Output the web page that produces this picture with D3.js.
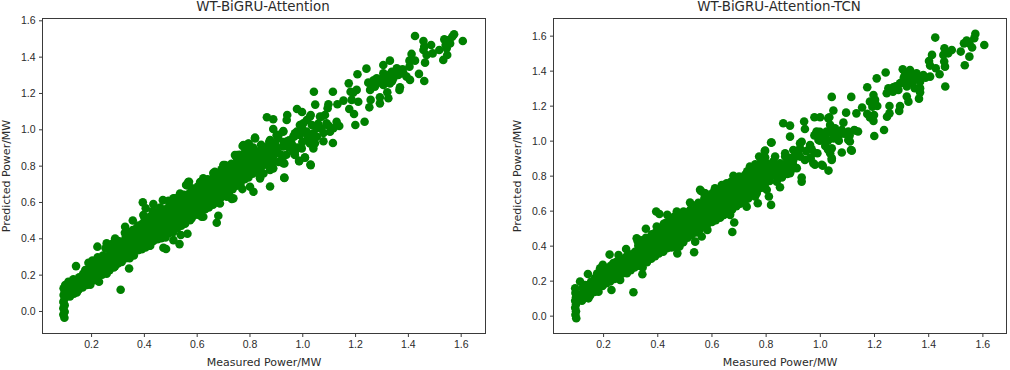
<!DOCTYPE html>
<html lang="en">
<head>
  <meta charset="UTF-8" />
  <title>WT-BiGRU scatter</title>
  <script src="https://d3js.org/d3.v7.min.js"></script>
  <style>
    body { margin: 0; background: #fff; font-family: 'DejaVu Sans', sans-serif; }
    svg { display: block; }
    .tick text { font-size: 10.5px; fill: #2b2b2b; }
    .tick line, .spine { stroke: #3a3a3a; }
    .domain { display: none; }
    .title { font-size: 13.4px; fill: #2b2b2b; text-anchor: middle; }
    .label { font-size: 11px; fill: #2b2b2b; text-anchor: middle; }
  </style>
</head>
<body>
  <svg width="1010" height="370"></svg>
  <script>
    const xTicks = [0.2, 0.4, 0.6, 0.8, 1.0, 1.2, 1.4, 1.6];
    const yTicks = [0.0, 0.2, 0.4, 0.6, 0.8, 1.0, 1.2, 1.4, 1.6];
    const xLabel = "Measured Power/MW";
    const yLabel = "Predicted Power/MW";

    // [measured, predicted]
    const attentionHigh = [
      [1.427,1.514],[1.575,1.523],[1.568,1.510],[1.538,1.495],[1.556,1.492],[1.608,1.486],[1.459,1.486],[1.488,1.464],
      [1.462,1.455],[1.543,1.464],[1.560,1.473],[1.547,1.446],[1.519,1.437],[1.459,1.437],[1.471,1.409],[1.494,1.418],
      [1.549,1.409],[1.534,1.382],[1.465,1.367],[1.414,1.415],[1.427,1.378],[1.406,1.378],[1.406,1.345],[1.332,1.378],
      [1.307,1.354],[1.243,1.334],[1.209,1.303],[1.176,1.253],[1.358,1.336],[1.339,1.317],[1.307,1.308],[1.383,1.308],
      [1.395,1.290],[1.408,1.272],[1.442,1.305],[1.462,1.266],[1.282,1.281],[1.250,1.257],[1.294,1.272],[1.320,1.272],
      [1.345,1.281],[1.364,1.299],[1.257,1.217],[1.275,1.235],[1.307,1.244],[1.332,1.253],[1.368,1.217],[1.370,1.231],
      [1.322,1.204],[1.294,1.176],[1.326,1.171],[1.294,1.143],[1.259,1.162],[1.254,1.121],[1.206,1.217],[1.193,1.202],
      [1.183,1.207],[1.187,1.162],[1.212,1.152],[1.156,1.158],[1.133,1.138],[1.178,1.112],[1.196,1.084],[1.236,1.042],
      [1.201,1.024],[1.116,1.207],[1.044,1.207],[1.049,1.136],[1.099,1.138],[1.096,1.116],[0.980,1.112],[0.999,1.095],
      [0.943,1.079],[0.941,1.051],[0.866,1.066],[0.890,1.055],[0.890,1.002],[0.821,0.954],[1.032,1.079],[1.017,1.051],
      [1.067,1.070],[1.086,1.079],[0.991,1.024],[1.036,1.024],[1.055,1.006],[1.092,1.033],[1.118,1.006],[1.105,0.987],
      [1.130,1.042],[1.140,1.018],[0.928,0.991],[0.979,0.987],[1.017,0.987],[1.042,0.978],[1.073,1.006],[0.966,0.960],
      [0.991,0.969],[1.017,0.941],[1.048,0.923],[1.080,0.934],[1.116,0.925],[0.941,0.932],[0.909,0.951],[0.878,0.941],
      [0.897,0.923],[0.852,0.886],[0.827,0.877],[0.802,0.850],[0.928,0.905],[0.966,0.877],[0.972,0.859],[1.010,0.844],
      [0.988,0.826],[1.031,0.806],[0.928,0.813],[0.878,0.776],[0.840,0.850],[0.890,0.850],[0.909,0.868],[0.865,0.831],
      [0.821,0.813],[0.802,0.758],[0.932,0.734],[0.840,0.739],[0.878,0.685],[0.850,0.800],[0.880,0.880],[0.910,0.820],
      [0.950,0.900],[0.940,0.860],[0.860,0.860],[0.830,0.780],[0.905,0.900],
      [0.860,0.830],[0.870,0.870],[0.890,0.820],[0.900,0.880],[0.920,0.860],[0.930,0.930],[0.950,0.940],[0.960,0.920],
      [0.970,0.960],[0.980,0.900],[1.000,0.930],[1.000,1.000],[1.020,0.970],[1.030,0.950],[1.050,0.960],[1.060,1.030],
      [1.080,0.980],[1.100,1.020],[0.880,0.910],[0.910,0.970],[0.860,0.900],[1.310,1.290],[1.330,1.300],[1.350,1.300],
      [1.370,1.310],[1.380,1.330],[1.280,1.250],[1.260,1.250],[1.270,1.270],[1.300,1.260],[1.340,1.265]
    ];
    const attentionLow = [
      [0.099,-0.037],[0.095,-0.020],[0.100,-0.004],[0.095,0.015],[0.100,0.032],[0.095,0.050],[0.100,0.069],[0.096,0.088],
      [0.100,0.106],[0.096,0.125],[0.102,0.143],[0.114,0.161],[0.143,0.247],[0.224,0.354],[0.312,0.117],[0.230,0.161],
      [0.259,0.205],[0.146,0.102],[0.358,0.498],[0.329,0.464],[0.396,0.598],[0.407,0.565],[0.436,0.588],[0.434,0.550],
      [0.472,0.610],[0.493,0.607],[0.518,0.620],[0.562,0.693],[0.537,0.647],[0.773,0.671],[0.739,0.620],[0.682,0.524],
      [0.676,0.486],[0.619,0.519],[0.581,0.510],[0.565,0.425],[0.540,0.418],[0.535,0.368],[0.474,0.348],[0.484,0.341],
      [0.512,0.390],[0.424,0.359],[0.344,0.234],[0.291,0.247],[0.184,0.143],[0.291,0.399],[0.259,0.372],[0.373,0.458],
      [0.398,0.528],[0.777,0.913],[0.797,0.920],[0.753,0.859],[0.707,0.803],[0.663,0.759],[0.613,0.710],[0.568,0.710],
      [0.120,0.080],[0.118,0.120],[0.124,0.160],[0.135,0.095],[0.138,0.135],[0.133,0.175],[0.152,0.115],[0.150,0.150],
      [0.155,0.185],[0.168,0.130],[0.165,0.170],[0.170,0.205],[0.180,0.150],[0.183,0.190],[0.178,0.225],[0.197,0.145],
      [0.194,0.195],[0.198,0.240],[0.190,0.265],[0.212,0.170],[0.208,0.210],[0.213,0.255],[0.205,0.278],[0.226,0.190],
      [0.222,0.230],[0.228,0.268],[0.225,0.295],[0.242,0.200],[0.240,0.240],[0.238,0.285],[0.245,0.305],[0.256,0.220],
      [0.258,0.260],[0.252,0.300],[0.255,0.345],[0.270,0.225],[0.268,0.270],[0.274,0.315],[0.266,0.355],[0.286,0.240],
      [0.284,0.285],[0.288,0.330],[0.283,0.372],[0.302,0.262],[0.300,0.300],[0.298,0.345],[0.304,0.385],[0.316,0.270],
      [0.314,0.315],[0.318,0.360],[0.312,0.375],[0.332,0.290],[0.330,0.330],[0.334,0.375],[0.328,0.430],[0.346,0.290],
      [0.348,0.340],[0.344,0.385],[0.350,0.435],[0.362,0.305],[0.360,0.350],[0.364,0.395],[0.358,0.445],[0.378,0.335],
      [0.374,0.375],[0.376,0.420],[0.380,0.470],[0.392,0.340],[0.390,0.385],[0.388,0.430],[0.394,0.480],[0.406,0.350],
      [0.404,0.400],[0.408,0.445],[0.402,0.515],[0.422,0.360],[0.420,0.410],[0.418,0.460],[0.424,0.520],[0.436,0.385],
      [0.434,0.430],[0.438,0.480],[0.432,0.525],[0.452,0.395],[0.450,0.440],[0.448,0.490],[0.454,0.545],[0.466,0.400],
      [0.464,0.450],[0.468,0.500],[0.462,0.570],[0.482,0.405],[0.480,0.460],[0.478,0.515],[0.484,0.560],[0.496,0.430],
      [0.494,0.470],[0.498,0.525],[0.492,0.570],[0.512,0.435],[0.510,0.485],[0.508,0.535],[0.514,0.585],[0.526,0.455],
      [0.524,0.500],[0.528,0.550],[0.522,0.595],[0.542,0.470],[0.540,0.515],[0.538,0.565],[0.544,0.620],[0.556,0.480],
      [0.554,0.530],[0.558,0.580],[0.552,0.640],[0.572,0.510],[0.570,0.550],[0.568,0.600],[0.574,0.650],[0.586,0.525],
      [0.584,0.570],[0.588,0.620],[0.582,0.675],[0.602,0.530],[0.600,0.580],[0.598,0.630],[0.604,0.685],[0.616,0.545],
      [0.614,0.595],[0.618,0.645],[0.612,0.695],[0.632,0.560],[0.630,0.605],[0.628,0.660],[0.634,0.710],[0.646,0.570],
      [0.644,0.620],[0.648,0.670],[0.642,0.725],[0.662,0.585],[0.660,0.635],[0.658,0.690],[0.664,0.735],[0.676,0.600],
      [0.674,0.650],[0.678,0.700],[0.672,0.755],[0.692,0.625],[0.690,0.670],[0.688,0.720],[0.694,0.780],[0.706,0.635],
      [0.704,0.685],[0.708,0.735],[0.702,0.790],[0.722,0.650],[0.720,0.700],[0.718,0.750],[0.724,0.800],[0.736,0.670],
      [0.734,0.715],[0.738,0.765],[0.732,0.810],[0.752,0.690],[0.750,0.735],[0.748,0.785],[0.754,0.835],[0.766,0.700],
      [0.764,0.755],[0.768,0.805],[0.762,0.860],[0.782,0.725],[0.780,0.770],[0.778,0.820],[0.784,0.880],[0.796,0.735],
      [0.794,0.785],[0.798,0.835],[0.792,0.880],[0.812,0.755],[0.810,0.805],[0.808,0.850],[0.814,0.900],[0.826,0.770],
      [0.824,0.815],[0.828,0.860],[0.842,0.790],[0.840,0.825],[0.838,0.880],[0.844,0.915],[0.862,0.810],[0.860,0.900]
    ];
    // thick middle of the band, no single dot can be told apart here
    const attentionCore = [
      [0.15,0.125],[0.15,0.17],[0.18,0.17],[0.18,0.205],[0.21,0.19],[0.21,0.235],[0.24,0.22],[0.24,0.265],[0.27,0.25],
      [0.27,0.30],[0.27,0.335],[0.30,0.28],[0.30,0.325],[0.30,0.365],[0.33,0.31],[0.33,0.355],[0.33,0.40],[0.36,0.33],
      [0.36,0.375],[0.36,0.42],[0.39,0.36],[0.39,0.41],[0.39,0.455],[0.42,0.385],[0.42,0.435],[0.42,0.49],[0.45,0.415],
      [0.45,0.465],[0.45,0.52],[0.48,0.435],[0.48,0.49],[0.48,0.54],[0.51,0.46],[0.51,0.51],[0.51,0.56],[0.54,0.49],
      [0.54,0.54],[0.54,0.59],[0.57,0.53],[0.57,0.575],[0.57,0.625],[0.60,0.555],[0.60,0.605],[0.60,0.66],[0.63,0.585],
      [0.63,0.635],[0.63,0.685],[0.66,0.61],[0.66,0.66],[0.66,0.715],[0.69,0.645],[0.69,0.695],[0.69,0.75],[0.72,0.675],
      [0.72,0.725],[0.72,0.775],[0.75,0.71],[0.75,0.76],[0.75,0.81],[0.78,0.745],[0.78,0.795],[0.78,0.85],[0.81,0.78],
      [0.81,0.825],[0.81,0.875],[0.84,0.81],[0.84,0.85],[0.135,0.15],[0.165,0.15],[0.195,0.17],[0.195,0.215],[0.225,0.21],
      [0.225,0.25],[0.255,0.24],[0.255,0.28],[0.285,0.26],[0.285,0.31],[0.315,0.295],[0.315,0.34],[0.345,0.315],[0.345,0.36],
      [0.345,0.41],[0.375,0.355],[0.375,0.40],[0.375,0.445],[0.405,0.375],[0.405,0.425],[0.405,0.47],[0.435,0.41],[0.435,0.455],
      [0.435,0.505],[0.465,0.425],[0.465,0.475],[0.465,0.525],[0.495,0.45],[0.495,0.50],[0.495,0.55],[0.525,0.48],[0.525,0.525],
      [0.525,0.575],[0.555,0.505],[0.555,0.555],[0.555,0.61],[0.585,0.55],[0.585,0.595],[0.585,0.65],[0.615,0.57],[0.615,0.62],
      [0.615,0.67],[0.645,0.595],[0.645,0.645],[0.645,0.70],[0.675,0.625],[0.675,0.675],[0.675,0.73],[0.705,0.66],[0.705,0.71],
      [0.705,0.765],[0.735,0.69],[0.735,0.74],[0.735,0.79],[0.765,0.73],[0.765,0.78],[0.765,0.83],[0.795,0.76],[0.795,0.81],
      [0.795,0.86],[0.825,0.79],[0.825,0.84]
    ];
    // rim of the band, middle section
    const attentionEdge = [
      [0.932,0.732],[1.032,0.803],[1.010,0.845],[0.988,0.825],[1.042,0.895],[0.932,0.812],[0.878,0.785],[0.840,0.730],
      [0.815,0.656],[0.802,0.684],[0.733,0.616],[0.625,0.519],[0.575,0.500],[0.537,0.482],[0.688,0.592],[0.770,0.721],
      [0.714,0.629],[0.821,0.950],[0.796,0.922],[0.774,0.908],[0.745,0.858],[0.701,0.803],[0.669,0.766],[0.625,0.730],
      [0.571,0.711],[0.560,0.693],[0.512,0.620],[0.928,0.987],[0.875,0.932],[0.903,0.968],[0.972,0.978],[1.029,1.069],
      [1.004,1.033],[1.073,1.069],[0.972,0.877],[0.928,0.849],[0.890,0.785],[0.853,0.757],[0.998,0.895],[1.029,0.922],
      [1.055,0.959]
    ];

    const tcnHigh = [
      [1.426,1.589],[1.574,1.610],[1.570,1.585],[1.542,1.572],[1.532,1.556],[1.552,1.556],[1.562,1.532],[1.607,1.547],
      [1.520,1.509],[1.460,1.528],[1.487,1.518],[1.474,1.499],[1.456,1.490],[1.552,1.480],[1.535,1.431],[1.414,1.490],
      [1.403,1.455],[1.459,1.452],[1.462,1.423],[1.407,1.429],[1.428,1.414],[1.442,1.379],[1.463,1.309],[1.306,1.408],
      [1.333,1.404],[1.243,1.389],[1.210,1.356],[1.175,1.305],[1.357,1.385],[1.314,1.375],[1.382,1.375],[1.407,1.366],
      [1.333,1.347],[1.370,1.337],[1.296,1.328],[1.321,1.309],[1.271,1.305],[1.253,1.299],[1.247,1.271],[1.370,1.276],
      [1.366,1.240],[1.327,1.223],[1.321,1.252],[1.296,1.198],[1.293,1.170],[1.257,1.198],[1.257,1.156],[1.248,1.137],
      [1.198,1.261],[1.204,1.233],[1.185,1.223],[1.212,1.198],[1.194,1.194],[1.156,1.189],[1.135,1.156],[1.175,1.153],
      [1.200,1.147],[1.185,1.133],[1.198,1.113],[1.237,1.061],[1.201,1.027],[1.116,1.250],[1.044,1.250],[1.097,1.160],
      [1.050,1.172],[1.035,1.134],[1.001,1.134],[0.980,1.134],[0.942,1.109],[0.945,1.067],[0.865,1.099],[0.890,1.086],
      [0.890,1.023],[0.822,0.989],[0.797,0.941],[1.038,1.090],[1.087,1.103],[0.988,1.052],[1.025,1.052],[1.056,1.071],
      [1.081,1.061],[1.105,1.052],[1.127,1.061],[1.141,1.052],[1.105,1.004],[0.995,1.004],[0.964,0.975],[1.013,1.013],
      [1.050,1.013],[1.044,0.956],[1.118,0.943],[1.081,0.932],[1.038,0.928],[1.044,0.890],[0.964,0.899],[0.976,0.871],
      [1.011,0.857],[1.032,0.829],[0.933,0.994],[0.902,0.947],[0.927,0.956],[0.872,0.909],[0.902,0.890],[0.927,0.909],
      [0.828,0.880],[0.804,0.871],[0.853,0.871],[0.890,0.842],[0.865,0.823],[0.828,0.813],[0.933,0.789],[0.933,0.766],
      [0.804,0.804],[0.841,0.766],[0.880,0.890],[0.845,0.840],[0.910,0.925],[0.950,0.940],[0.815,0.770],[0.860,0.790],
      [0.840,0.850],[0.860,0.860],[0.870,0.840],[0.880,0.870],[0.890,0.900],[0.900,0.870],[0.910,0.910],[0.920,0.930],
      [0.860,0.810],[0.880,0.810],[0.900,0.840],[0.840,0.800],[0.820,0.840],[0.810,0.830],[0.980,1.030],[1.000,1.050],
      [1.020,1.030],[1.040,1.050],[1.060,1.050],[1.070,1.030],[1.090,1.040],[1.000,1.000],[1.030,1.000],[1.050,1.030],
      [1.070,1.000],[1.110,1.030],[1.020,0.970],[1.030,0.950],[0.980,0.930],[0.970,0.950],[1.280,1.310],[1.300,1.330],
      [1.320,1.330],[1.340,1.330],[1.360,1.350],[1.310,1.360],[1.340,1.370],[1.270,1.280],[1.290,1.290],[1.390,1.360],
      [1.350,1.300],[1.370,1.300]
    ];
    const tcnLow = [
      [0.101,-0.015],[0.098,0.005],[0.100,0.025],[0.097,0.045],[0.100,0.065],[0.097,0.085],[0.100,0.105],[0.098,0.130],
      [0.097,0.157],[0.115,0.195],[0.144,0.238],[0.224,0.349],[0.312,0.134],[0.231,0.147],[0.146,0.099],[0.358,0.497],
      [0.324,0.442],[0.396,0.595],[0.408,0.581],[0.398,0.509],[0.437,0.576],[0.472,0.595],[0.497,0.595],[0.521,0.646],
      [0.561,0.713],[0.577,0.699],[0.771,0.642],[0.684,0.532],[0.677,0.478],[0.585,0.490],[0.564,0.452],[0.536,0.362],
      [0.474,0.356],[0.540,0.423],[0.345,0.237],[0.288,0.242],[0.263,0.204],[0.183,0.137],[0.285,0.381],[0.257,0.347],
      [0.199,0.290],[0.189,0.271],[0.122,0.085],[0.120,0.125],[0.125,0.160],[0.137,0.105],[0.140,0.140],[0.134,0.175],
      [0.152,0.115],[0.150,0.155],[0.156,0.195],[0.168,0.135],[0.165,0.175],[0.170,0.215],[0.182,0.160],[0.185,0.200],
      [0.178,0.240],[0.198,0.170],[0.195,0.215],[0.200,0.255],[0.212,0.185],[0.208,0.225],[0.214,0.270],[0.226,0.195],
      [0.222,0.240],[0.228,0.285],[0.242,0.210],[0.240,0.255],[0.238,0.300],[0.256,0.225],[0.258,0.265],[0.252,0.310],
      [0.270,0.240],[0.268,0.280],[0.274,0.325],[0.286,0.250],[0.284,0.295],[0.288,0.340],[0.302,0.260],[0.300,0.305],
      [0.298,0.350],[0.316,0.275],[0.314,0.320],[0.318,0.365],[0.332,0.285],[0.330,0.330],[0.334,0.375],[0.328,0.425],
      [0.346,0.275],[0.348,0.340],[0.344,0.390],[0.340,0.430],[0.362,0.305],[0.360,0.350],[0.364,0.400],[0.358,0.445],
      [0.378,0.325],[0.374,0.375],[0.376,0.420],[0.380,0.465],[0.392,0.340],[0.390,0.385],[0.388,0.430],[0.394,0.475],
      [0.406,0.355],[0.404,0.400],[0.408,0.450],[0.412,0.500],[0.422,0.365],[0.420,0.415],[0.418,0.465],[0.424,0.525],
      [0.436,0.385],[0.434,0.430],[0.438,0.480],[0.432,0.530],[0.452,0.390],[0.450,0.440],[0.448,0.495],[0.454,0.550],
      [0.466,0.395],[0.464,0.450],[0.468,0.505],[0.462,0.565],[0.482,0.395],[0.480,0.455],[0.478,0.515],[0.484,0.560],
      [0.496,0.420],[0.494,0.470],[0.498,0.525],[0.492,0.565],[0.512,0.445],[0.510,0.490],[0.508,0.540],[0.514,0.590],
      [0.526,0.460],[0.524,0.505],[0.528,0.555],[0.522,0.605],[0.542,0.475],[0.540,0.525],[0.538,0.575],[0.544,0.630],
      [0.556,0.490],[0.554,0.540],[0.558,0.590],[0.552,0.645],[0.572,0.510],[0.570,0.560],[0.568,0.610],[0.574,0.670],
      [0.586,0.525],[0.584,0.575],[0.588,0.625],[0.582,0.680],[0.602,0.535],[0.600,0.585],[0.598,0.640],[0.604,0.700],
      [0.616,0.545],[0.614,0.600],[0.618,0.650],[0.612,0.710],[0.632,0.560],[0.630,0.610],[0.628,0.665],[0.634,0.720],
      [0.646,0.575],[0.644,0.625],[0.648,0.680],[0.642,0.735],[0.662,0.590],[0.660,0.640],[0.658,0.695],[0.664,0.750],
      [0.676,0.605],[0.674,0.655],[0.678,0.710],[0.672,0.765],[0.692,0.625],[0.690,0.675],[0.688,0.730],[0.694,0.785],
      [0.706,0.640],[0.704,0.690],[0.708,0.745],[0.702,0.795],[0.722,0.655],[0.720,0.705],[0.718,0.760],[0.724,0.805],
      [0.736,0.670],[0.734,0.720],[0.738,0.775],[0.732,0.825],[0.752,0.695],[0.750,0.740],[0.748,0.795],[0.754,0.845],
      [0.766,0.705],[0.764,0.760],[0.768,0.815],[0.762,0.865],[0.782,0.730],[0.780,0.780],[0.778,0.830],[0.784,0.890],
      [0.796,0.745],[0.794,0.850],[0.798,0.905]
    ];
    const tcnCore = [
      [0.15,0.135],[0.15,0.175],[0.18,0.18],[0.18,0.22],[0.21,0.205],[0.21,0.25],[0.24,0.235],[0.24,0.28],[0.27,0.26],
      [0.27,0.305],[0.30,0.285],[0.30,0.33],[0.33,0.31],[0.33,0.355],[0.33,0.40],[0.36,0.33],[0.36,0.375],[0.36,0.425],
      [0.39,0.36],[0.39,0.41],[0.39,0.455],[0.42,0.39],[0.42,0.44],[0.42,0.495],[0.45,0.415],[0.45,0.47],[0.45,0.525],
      [0.48,0.43],[0.48,0.485],[0.48,0.54],[0.51,0.465],[0.51,0.515],[0.51,0.565],[0.54,0.50],[0.54,0.55],[0.54,0.605],
      [0.57,0.535],[0.57,0.585],[0.57,0.64],[0.60,0.56],[0.60,0.615],[0.60,0.67],[0.63,0.585],[0.63,0.64],[0.63,0.695],
      [0.66,0.615],[0.66,0.67],[0.66,0.725],[0.69,0.65],[0.69,0.705],[0.69,0.76],[0.72,0.68],[0.72,0.735],[0.72,0.785],
      [0.75,0.72],[0.75,0.77],[0.75,0.82],[0.78,0.755],[0.78,0.805],[0.78,0.86],[0.81,0.79],[0.81,0.86],[0.135,0.155],
      [0.165,0.155],[0.195,0.19],[0.195,0.235],[0.225,0.22],[0.225,0.265],[0.255,0.245],[0.255,0.29],[0.285,0.275],
      [0.285,0.32],[0.315,0.30],[0.315,0.345],[0.345,0.315],[0.345,0.365],[0.345,0.41],[0.375,0.35],[0.375,0.40],[0.375,0.445],
      [0.405,0.38],[0.405,0.425],[0.405,0.475],[0.435,0.41],[0.435,0.455],[0.435,0.505],[0.465,0.425],[0.465,0.48],[0.465,0.535],
      [0.495,0.445],[0.495,0.50],[0.495,0.545],[0.525,0.485],[0.525,0.53],[0.525,0.58],[0.555,0.515],[0.555,0.565],[0.555,0.62],
      [0.585,0.55],[0.585,0.60],[0.585,0.655],[0.615,0.575],[0.615,0.625],[0.615,0.68],[0.645,0.60],[0.645,0.655],[0.645,0.71],
      [0.675,0.63],[0.675,0.685],[0.675,0.74],[0.705,0.665],[0.705,0.72],[0.705,0.77],[0.735,0.695],[0.735,0.75],[0.735,0.80],
      [0.765,0.735],[0.765,0.79],[0.765,0.84],[0.795,0.77],[0.795,0.82],[0.795,0.875],[0.82,0.80]
    ];
    const tcnEdge = [
      [1.007,0.862],[0.982,0.862],[0.966,0.900],[1.115,0.947],[1.044,0.900],[0.853,0.734],[0.859,0.795],[0.915,0.843],
      [0.820,0.633],[0.812,0.681],[0.761,0.681],[0.730,0.623],[0.669,0.576],[0.613,0.547],[0.570,0.519],[0.558,0.719],
      [0.573,0.700],[0.613,0.728],[0.638,0.747],[0.681,0.799],[0.742,0.852],[0.776,0.909],[0.798,0.943],[0.820,0.989],
      [0.927,0.985],[0.964,0.966],[0.988,1.043],[1.031,1.128],[1.130,1.058],[1.111,0.995],[0.991,0.928],[0.945,0.890],
      [0.890,0.814],[0.872,0.928],[0.835,0.909],[0.792,0.871],[0.705,0.785],[0.656,0.757],[0.853,0.804],[0.804,0.719],
      [0.730,0.681],[0.767,0.700]
    ];

    const svg = d3.select("svg");

    function panel(title, points, box, xScale, yScale) {
      const g = svg.append("g");

      g.append("g").selectAll("circle")
        .data(points)
        .join("circle")
        .attr("cx", d => xScale(d[0]))
        .attr("cy", d => yScale(d[1]))
        .attr("r", 4.3)
        .attr("fill", "#008000");

      g.append("g")
        .attr("transform", `translate(0,${box.bottom})`)
        .call(d3.axisBottom(xScale).tickValues(xTicks).tickFormat(d3.format(".1f")).tickSize(3.5).tickPadding(3.5));
      g.append("g")
        .attr("transform", `translate(${box.left},0)`)
        .call(d3.axisLeft(yScale).tickValues(yTicks).tickFormat(d3.format(".1f")).tickSize(3.5).tickPadding(3.5));

      g.append("rect")
        .attr("class", "spine")
        .attr("x", box.left).attr("y", box.top)
        .attr("width", box.right - box.left).attr("height", box.bottom - box.top)
        .attr("fill", "none");

      g.append("text").attr("class", "title")
        .attr("x", (box.left + box.right) / 2 - 1).attr("y", 11)
        .text(title);
      g.append("text").attr("class", "label")
        .attr("x", (box.left + box.right) / 2).attr("y", 366)
        .text(xLabel);
      g.append("text").attr("class", "label")
        .attr("transform", `translate(${box.left - 33},${(box.top + box.bottom) / 2}) rotate(-90)`)
        .text(yLabel);
    }

    const boxA = { left: 42.5, right: 485.5, top: 18.5, bottom: 333.5 };
    const boxB = { left: 553.5, right: 1006.5, top: 18.5, bottom: 333.5 };

    panel("WT-BiGRU-Attention", attentionLow.concat(attentionCore, attentionEdge, attentionHigh), boxA,
      d3.scaleLinear().domain([0.016, 1.694]).range([boxA.left, boxA.right]),
      d3.scaleLinear().domain([-0.124, 1.610]).range([boxA.bottom, boxA.top]));
    panel("WT-BiGRU-Attention-TCN", tcnLow.concat(tcnCore, tcnEdge, tcnHigh), boxB,
      d3.scaleLinear().domain([0.017, 1.689]).range([boxB.left, boxB.right]),
      d3.scaleLinear().domain([-0.102, 1.698]).range([boxB.bottom, boxB.top]));
  </script>
</body>
</html>
